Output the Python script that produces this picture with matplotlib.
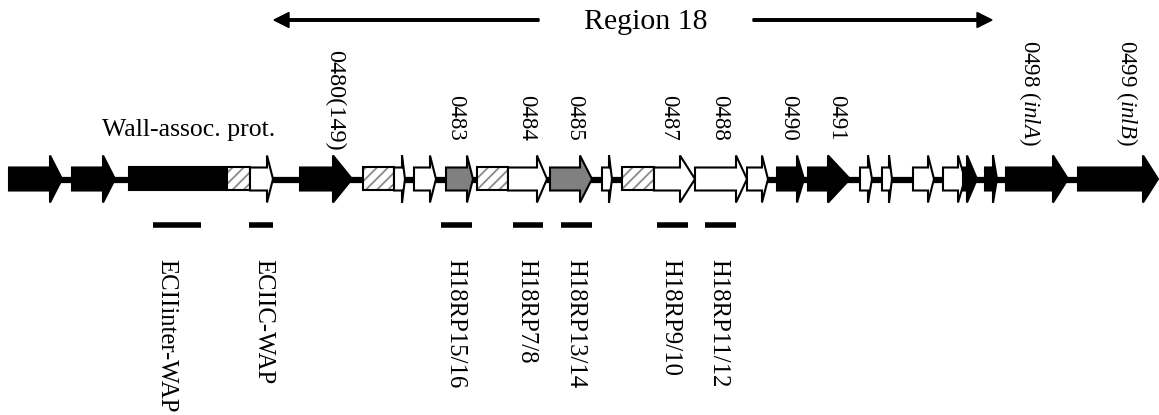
import matplotlib
matplotlib.use("Agg")
import matplotlib.pyplot as plt
from matplotlib.patches import Polygon, Rectangle, FancyArrow

# ---------------- data (genomic coordinates, arbitrary units) ----------------
# each gene: start of body, tip of arrow, base of arrow head, fill style
gene_start = [9, 72, 250, 300, 394, 414, 446, 508, 550, 602, 654, 695, 747,
              777, 808, 860, 882, 913, 943, 963, 985, 1006, 1078]
gene_tip   = [62, 115, 273, 352, 405, 436, 473, 547, 592, 612, 695, 747, 768,
              804, 850, 872, 892, 934, 965, 977, 997, 1068, 1158]
gene_head  = [50, 103, 267, 333, 402, 430, 467, 537, 580, 609, 680, 736, 762,
              797, 828, 868, 889, 928, 958, 967, 993, 1053, 1143]
gene_style = ["black", "black", "white", "black", "white", "white", "gray",
              "white", "gray", "white", "white", "white", "white", "black",
              "black", "white", "white", "white", "white", "black", "black",
              "black", "black"]

# plain domains (no arrow head)
block_start = [129]
block_end   = [227]
# hatched domains
hatch_start = [227, 363, 477, 622]
hatch_end   = [250, 394, 508, 654]

# backbone
backbone = (9, 1078)

# top gene labels
top_labels = ["0480(149)", "0483", "0484", "0485", "0487", "0488", "0490",
              "0491", "0498 ($\\it{inlA}$)", "0499 ($\\it{inlB}$)"]
top_x      = [335, 456, 527, 575, 669, 720, 789, 837, 1030, 1127]
top_y      = [50, 95, 95, 95, 95, 95, 95, 95, 40, 40]

# probes (bars below) and their names
probe_start = [153, 249, 441, 513, 561, 657, 705]
probe_end   = [201, 273, 472, 543, 592, 688, 736]
probe_names = ["ECIIinter-WAP", "ECIIC-WAP", "H18RP15/16", "H18RP7/8",
               "H18RP13/14", "H18RP9/10", "H18RP11/12"]
probe_label_x = [166, 263, 455, 526, 575, 670, 718]

region_label = "Region 18"
wall_label = "Wall-assoc. prot."

# ---------------- style ----------------
plt.rcParams['font.family'] = ['Liberation Serif', 'DejaVu Serif']
plt.rcParams['mathtext.fontset'] = 'custom'
plt.rcParams['mathtext.rm'] = 'Liberation Serif'
plt.rcParams['mathtext.it'] = 'Liberation Serif:italic'
plt.rcParams['hatch.linewidth'] = 1.3

W, H = 1159, 415
fig = plt.figure(figsize=(W / 100, H / 100), dpi=100)
ax = fig.add_axes([0, 0, 1, 1])
ax.set_xlim(0, W)
ax.set_ylim(H, 0)
ax.axis('off')

yc = 179          # gene axis centre
body_h = 11.5     # half-height of gene body
head_h = 23.5     # half-height of arrow head
lw = 1.5

colors = {"black": "black", "white": "white", "gray": "#808080"}

# backbone
ax.plot(backbone, [yc + 1, yc + 1], color='black', lw=4.5, solid_capstyle='butt', zorder=1)

# plain blocks
for s, e in zip(block_start, block_end):
    ax.add_patch(Rectangle((s, yc - body_h), e - s, 2 * body_h, facecolor='black',
                           edgecolor='black', lw=lw, zorder=2))

# hatched blocks
for s, e in zip(hatch_start, hatch_end):
    ax.add_patch(Rectangle((s, yc - body_h), e - s, 2 * body_h, facecolor='white',
                           edgecolor='#8a8a8a', hatch='///', lw=0, zorder=2))
    ax.add_patch(Rectangle((s, yc - body_h), e - s, 2 * body_h, facecolor='none',
                           edgecolor='black', lw=lw, zorder=3))

# genes
for s, t, h, st in zip(gene_start, gene_tip, gene_head, gene_style):
    pts = [(s, yc - body_h), (h, yc - body_h), (h, yc - head_h), (t, yc),
           (h, yc + head_h), (h, yc + body_h), (s, yc + body_h)]
    ax.add_patch(Polygon(pts, closed=True, facecolor=colors[st], edgecolor='black',
                         lw=lw, joinstyle='miter', zorder=3))

# top labels
for lab, x, y in zip(top_labels, top_x, top_y):
    fs = 17.5 if lab.startswith("0480") else 16.5
    ax.text(x, y, lab, rotation=-90, ha='center', va='top', fontsize=fs)

ax.text(102, 130, wall_label, ha='left', va='center', fontsize=18.5)

# probes
for s, e in zip(probe_start, probe_end):
    ax.plot([s, e], [224.5, 224.5], color='black', lw=4, solid_capstyle='butt')
for lab, x in zip(probe_names, probe_label_x):
    ax.text(x, 259, lab, rotation=-90, ha='center', va='top', fontsize=17.8)

# region arrows
ax.text(646, 22, region_label, ha='center', va='center', fontsize=21.5)
ax.add_patch(FancyArrow(539, 20, 274 - 539, 0, width=2.5, head_width=15, head_length=15,
                        length_includes_head=True, color='black'))
ax.add_patch(FancyArrow(753, 20, 992 - 753, 0, width=2.5, head_width=15, head_length=15,
                        length_includes_head=True, color='black'))

fig.savefig("out.png", dpi=100)
